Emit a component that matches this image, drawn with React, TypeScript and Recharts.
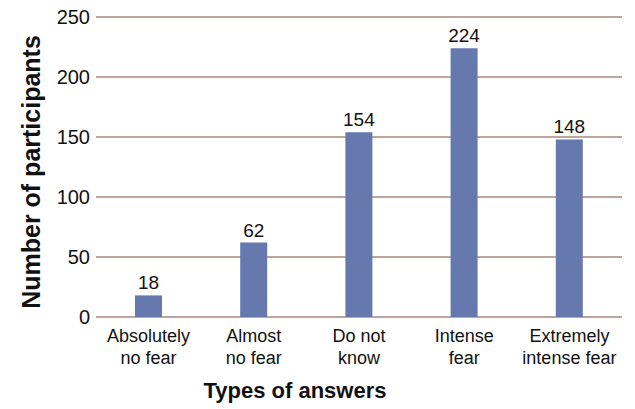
import { BarChart, Bar, XAxis, YAxis, CartesianGrid, LabelList } from 'recharts';

const categories = ['Absolutely\nno fear', 'Almost\nno fear', 'Do not\nknow', 'Intense\nfear', 'Extremely\nintense fear'];
const participants = [18, 62, 154, 224, 148];
const yTicks = [0, 50, 100, 150, 200, 250];

const data = categories.map((name, i) => ({ name, value: participants[i] }));

const FONT = 'Arial, "Liberation Sans", Helvetica, sans-serif';

const CategoryTick = ({ x, y, payload }: any) => {
  const lines = String(payload.value).split('\n');
  return (
    <text x={x} y={y} textAnchor="middle" fill="#111" fontSize={18} fontFamily={FONT}>
      {lines.map((line, i) => (
        <tspan key={i} x={x} dy={i === 0 ? 17 : 22}>
          {line}
        </tspan>
      ))}
    </text>
  );
};

const App = () => {
  return (
    <div style={{ width: 635, height: 409, background: '#fff' }}>
      <style>{'body{margin:0}'}</style>
      <BarChart
        width={635}
        height={409}
        data={data}
        margin={{ top: 17, right: 13, left: 0, bottom: 91 }}
      >
        <CartesianGrid vertical={false} stroke="#a9877c" strokeWidth={1.5} />
        <XAxis
          dataKey="name"
          axisLine={false}
          tickLine={false}
          interval={0}
          tick={<CategoryTick />}
          height={1}
        />
        <YAxis
          domain={[0, 250]}
          ticks={yTicks}
          width={96}
          axisLine={false}
          tickLine={false}
          tickMargin={0}
          tick={{ fill: '#111', fontSize: 20, fontFamily: FONT }}
        />
        <Bar dataKey="value" fill="#6579af" barSize={27} isAnimationActive={false}>
          <LabelList dataKey="value" position="top" offset={6} fill="#111" fontSize={19} fontFamily={FONT} />
        </Bar>
        <text x={31} y={172} transform="rotate(-90 31 172)" textAnchor="middle" dominantBaseline="central" fontSize={25} fontWeight="bold" fontFamily={FONT} fill="#111">
          Number of participants
        </text>
        <text x={295} y={398} textAnchor="middle" fontSize={22} fontWeight="bold" fontFamily={FONT} fill="#111">
          Types of answers
        </text>
      </BarChart>
    </div>
  );
};

export default App;
